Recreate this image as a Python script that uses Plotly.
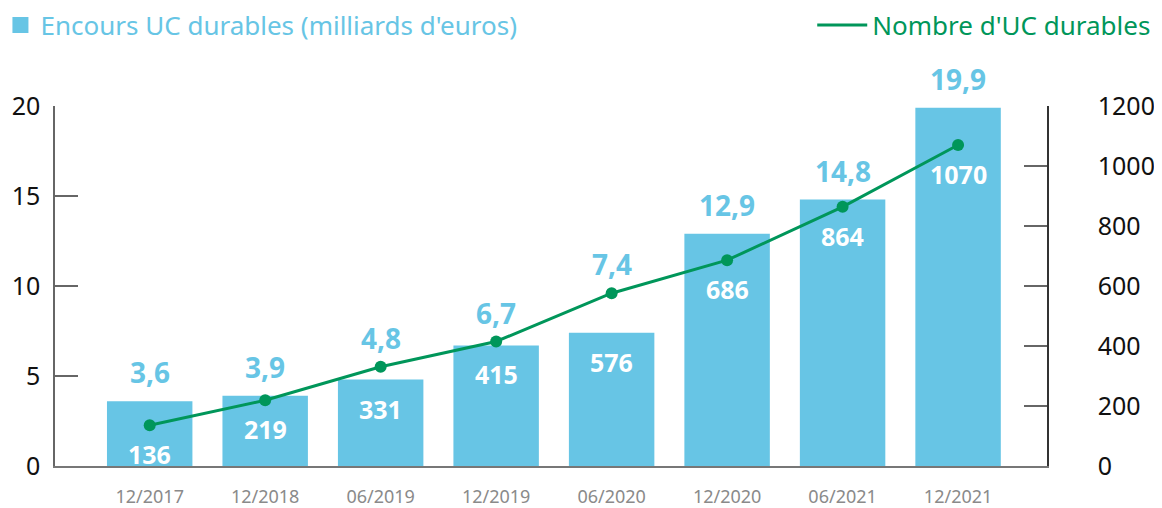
import plotly.graph_objects as go

# data
periods = ["12/2017", "12/2018", "06/2019", "12/2019", "06/2020", "12/2020", "06/2021", "12/2021"]
encours = [3.6, 3.9, 4.8, 6.7, 7.4, 12.9, 14.8, 19.9]  # milliards d'euros
nombre_uc = [136, 219, 331, 415, 576, 686, 864, 1070]

BAR_NAME = "Encours UC durables (milliards d'euros)"
LINE_NAME = "Nombre d'UC durables"

BLUE = "#67c5e5"
GREEN = "#00965a"
FONT = "Noto Sans"

fig = go.Figure()

fig.add_trace(go.Bar(
    x=periods, y=encours,
    marker=dict(color=BLUE, line=dict(width=0)),
    hoverinfo="skip", showlegend=False,
))

fig.add_trace(go.Scatter(
    x=periods, y=nombre_uc,
    mode="lines+markers",
    line=dict(color=GREEN, width=3),
    marker=dict(color=GREEN, size=12),
    yaxis="y2", hoverinfo="skip", showlegend=False,
))

# legend-only entries (square swatch, plain line)
fig.add_trace(go.Scatter(
    x=[None], y=[None], mode="markers", name=BAR_NAME,
    marker=dict(symbol="square", color=BLUE, size=20),
    legend="legend",
))
fig.add_trace(go.Scatter(
    x=[None], y=[None], mode="lines", name=LINE_NAME,
    line=dict(color=GREEN, width=3),
    legend="legend2",
))

annotations = []
for p, e, n in zip(periods, encours, nombre_uc):
    # amount above the bar, or above the marker when the marker sits higher
    annotations.append(dict(
        x=p, y=max(e, n / 60), xref="x", yref="y", text=f"<b>{e:.1f}</b>".replace(".", ","),
        showarrow=False, yshift=29, font=dict(family=FONT, size=28, color=BLUE),
    ))
    # count inside the bar, below the marker (or below the bar top)
    annotations.append(dict(
        x=p, y=min(n, e * 60), xref="x", yref="y2", text=f"<b>{n}</b>",
        showarrow=False, yshift=-29, font=dict(family=FONT, size=25, color="white"),
    ))

# the page body adds an 8px offset, so the figure is 8px smaller than the window
fig.update_layout(
    width=1154, height=500,
    margin=dict(l=47, r=115, t=98, b=42, autoexpand=False),
    paper_bgcolor="white", plot_bgcolor="white",
    font=dict(family=FONT, color="#111"),
    bargap=0.26,
    showlegend=True,
    legend=dict(
        xref="paper", yref="paper", x=-0.055, y=1.29,
        xanchor="left", yanchor="top",
        font=dict(family=FONT, size=26, color=BLUE),
        itemsizing="trace", itemwidth=30,
    ),
    legend2=dict(
        xref="container", yref="paper", x=0.995, y=1.29,
        xanchor="right", yanchor="top",
        font=dict(family=FONT, size=26, color=GREEN),
        itemwidth=50,
    ),
    xaxis=dict(
        range=[-0.82, 7.77],
        showline=True, linecolor="#777", linewidth=1.5,
        ticks="", ticklabelstandoff=14, tickangle=0,
        tickfont=dict(family=FONT, size=18, color="#8a8a8a"),
        showgrid=False, zeroline=False,
    ),
    yaxis=dict(
        range=[0, 20], tickvals=[0, 5, 10, 15, 20],
        showline=True, linecolor="#666", linewidth=1.5,
        ticks="inside", ticklen=23, tickcolor="#666", tickwidth=1.5,
        ticklabelstandoff=8,
        tickfont=dict(family=FONT, size=25, color="#111"),
        showgrid=False, zeroline=False,
    ),
    yaxis2=dict(
        range=[0, 1200], tickvals=[0, 200, 400, 600, 800, 1000, 1200],
        overlaying="y", side="right",
        showline=True, linecolor="#333", linewidth=1.5,
        ticks="inside", ticklen=23, tickcolor="#666", tickwidth=1.5,
        ticklabelstandoff=44,
        tickfont=dict(family=FONT, size=25, color="#111"),
        showgrid=False, zeroline=False,
    ),
    annotations=annotations,
)

fig.write_html("out.html")
